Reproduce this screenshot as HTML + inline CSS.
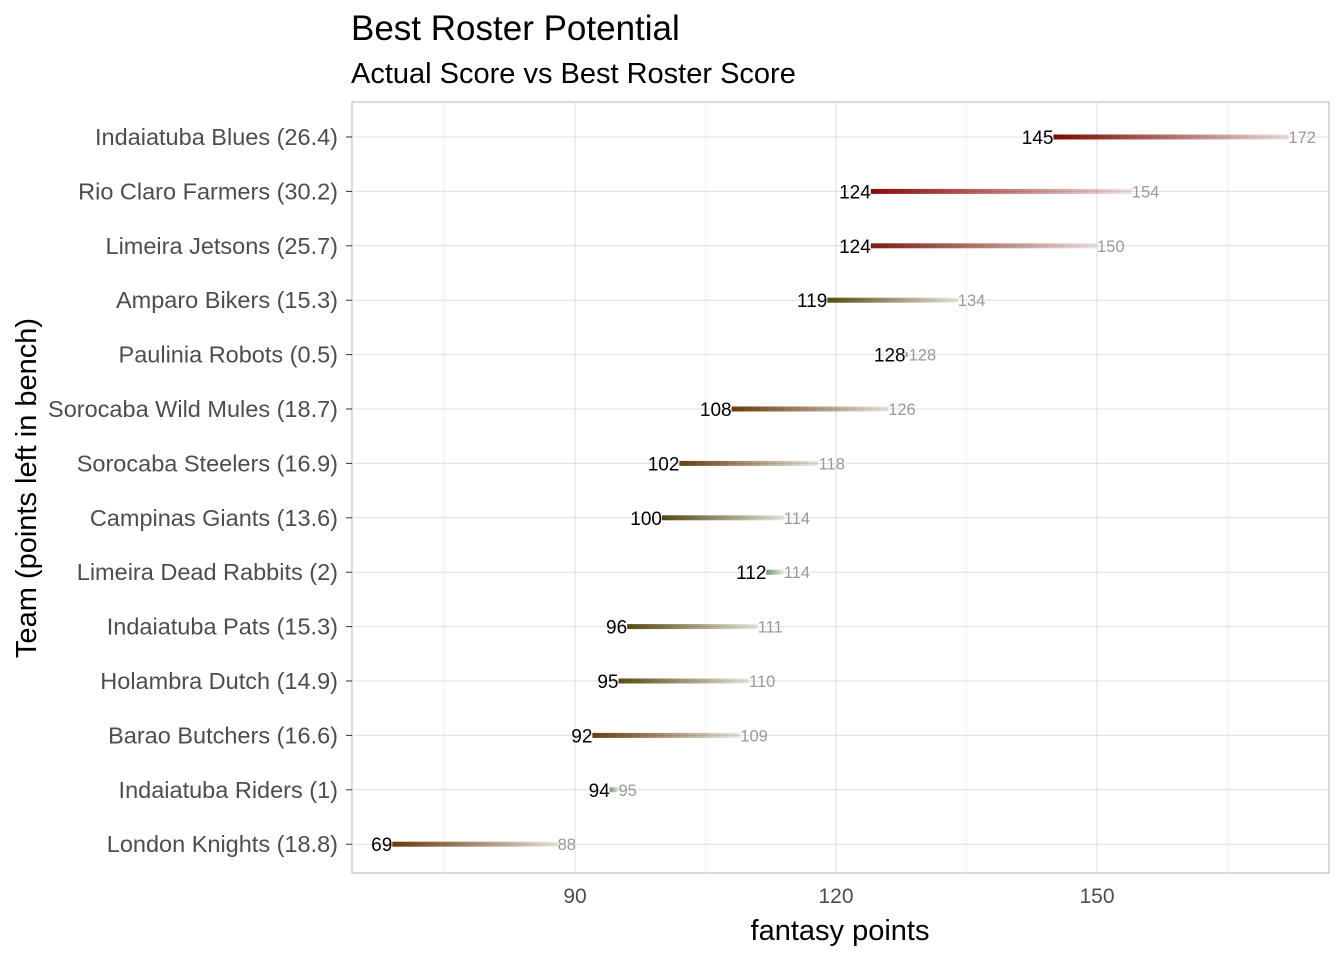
<!DOCTYPE html><html><head><style>body{margin:0;background:#fff}svg{font-family:"Liberation Sans",sans-serif}</style></head><body>
<svg width="1344" height="960" xmlns="http://www.w3.org/2000/svg">
<defs id="d"></defs>
<text x="351" y="40" font-size="35" fill="#000">Best Roster Potential</text>
<text x="351" y="83" font-size="29" fill="#000">Actual Score vs Best Roster Score</text>
<rect x="352" y="102" width="977" height="771" fill="#fff" stroke="#b3b3b3"/>
<g id="grid" stroke="#ebebeb" stroke-width="1"></g>
<g id="g"></g>
<text x="575" y="903" font-size="21" fill="#4d4d4d" text-anchor="middle">90</text>
<text x="836" y="903" font-size="21" fill="#4d4d4d" text-anchor="middle">120</text>
<text x="1097" y="903" font-size="21" fill="#4d4d4d" text-anchor="middle">150</text>
<text x="840" y="940" font-size="29" fill="#000" text-anchor="middle">fantasy points</text>
<text transform="translate(36,488) rotate(-90)" font-size="29" fill="#000" text-anchor="middle">Team (points left in bench)</text>
</svg>
<script>
const D=[["Indaiatuba Blues (26.4)",145,172,"#7a0a00"],["Rio Claro Farmers (30.2)",124,154,"#8b0a0a"],["Limeira Jetsons (25.7)",124,150,"#7a2010"],["Amparo Bikers (15.3)",119,134,"#5a4a10"],["Paulinia Robots (0.5)",128,128,"#6a9a6a"],["Sorocaba Wild Mules (18.7)",108,126,"#6a3a0a"],["Sorocaba Steelers (16.9)",102,118,"#654010"],["Campinas Giants (13.6)",100,114,"#554a10"],["Limeira Dead Rabbits (2)",112,114,"#6a9a6a"],["Indaiatuba Pats (15.3)",96,111,"#5a4a10"],["Holambra Dutch (14.9)",95,110,"#5a4a10"],["Barao Butchers (16.6)",92,109,"#654010"],["Indaiatuba Riders (1)",94,95,"#6a9a6a"],["London Knights (18.8)",69,88,"#6a3a0a"]];
const X=v=>575+(v-90)*8.7;
let grid="",g="",defs="";
[75,105,135,165].forEach(v=>grid+=`<line x1="${X(v)}" x2="${X(v)}" y1="102" y2="873" stroke="#f0f0f0"/>`);
[90,120,150].forEach(v=>grid+=`<line x1="${X(v)}" x2="${X(v)}" y1="102" y2="873" stroke="#dedede"/>`);
D.forEach((d,i)=>{const y=137+i*54.4;grid+=`<line x1="352" x2="1329" y1="${y}" y2="${y}" stroke="#dedede"/>`;
g+=`<line x1="346" x2="352" y1="${y}" y2="${y}" stroke="#333"/><text x="338" y="${y+8}" font-size="23.5" fill="#4d4d4d" text-anchor="end">${d[0]}</text>`;
const a=X(d[1]),b=Math.max(X(d[2]),a+3);
defs+=`<linearGradient id="l${i}" x1="0" x2="1"><stop offset="0" stop-color="${d[3]}"/><stop offset="1" stop-color="${d[3]}" stop-opacity="0.12"/></linearGradient>`;
g+=`<rect x="${a}" y="${y-2.5}" width="${b-a}" height="5" fill="url(#l${i})"/>`;
g+=`<text x="${a}" y="${y+7}" font-size="19" fill="#000" text-anchor="end">${d[1]}</text><text x="${b}" y="${y+6}" font-size="16.5" fill="#999">${d[2]}</text>`;});
document.getElementById("grid").innerHTML=grid;document.getElementById("g").innerHTML=g;document.getElementById("d").innerHTML=defs;
</script></body></html>
